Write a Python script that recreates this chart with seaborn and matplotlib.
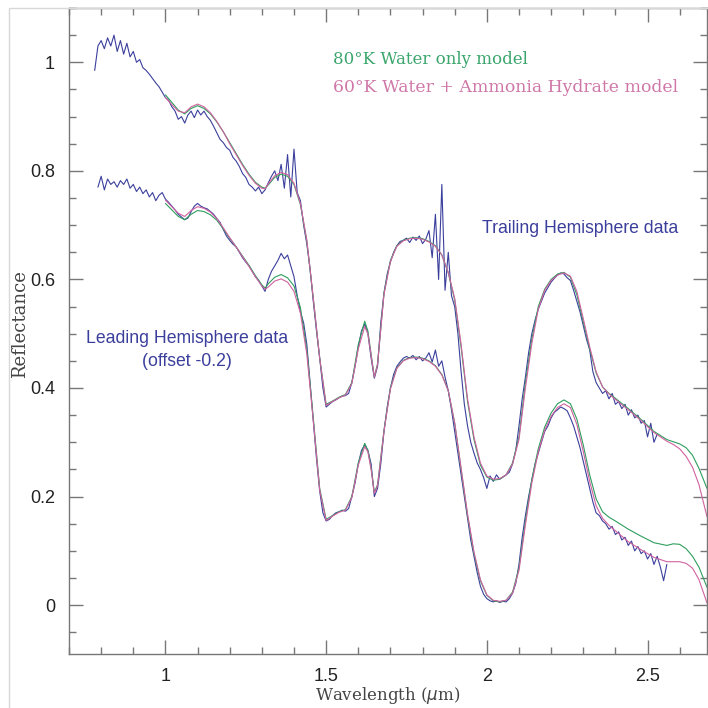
import numpy as np
import matplotlib
matplotlib.use("Agg")
import matplotlib.pyplot as plt
from matplotlib.patches import Rectangle
from matplotlib.ticker import MultipleLocator
import seaborn as sns

nan = np.nan

# wavelength grid of the measured spectra (um)
data_wl = [
    0.78, 0.79, 0.80, 0.81, 0.82, 0.83, 0.84, 0.85, 0.86, 0.87,
    0.88, 0.89, 0.90, 0.91, 0.92, 0.93, 0.94, 0.95, 0.96, 0.97,
    0.98, 0.99, 1.00, 1.01, 1.02, 1.03, 1.04, 1.05, 1.06, 1.07,
    1.08, 1.09, 1.10, 1.11, 1.12, 1.13, 1.14, 1.15, 1.16, 1.17,
    1.18, 1.19, 1.20, 1.21, 1.22, 1.23, 1.24, 1.25, 1.26, 1.27,
    1.28, 1.29, 1.30, 1.31, 1.32, 1.33, 1.34, 1.35, 1.36, 1.37,
    1.38, 1.39, 1.40, 1.41, 1.42, 1.43, 1.44, 1.45, 1.46, 1.47,
    1.48, 1.49, 1.50, 1.51, 1.52, 1.53, 1.54, 1.55, 1.56, 1.57,
    1.58, 1.59, 1.60, 1.61, 1.62, 1.63, 1.64, 1.65, 1.66, 1.67,
    1.68, 1.69, 1.70, 1.71, 1.72, 1.73, 1.74, 1.75, 1.76, 1.77,
    1.78, 1.79, 1.80, 1.81, 1.82, 1.83, 1.84, 1.85, 1.86, 1.87,
    1.88, 1.89, 1.90, 1.91, 1.92, 1.93, 1.94, 1.95, 1.96, 1.97,
    1.98, 1.99, 2.00, 2.01, 2.02, 2.03, 2.04, 2.05, 2.06, 2.07,
    2.08, 2.09, 2.10, 2.11, 2.12, 2.13, 2.14, 2.15, 2.16, 2.17,
    2.18, 2.19, 2.20, 2.21, 2.22, 2.23, 2.24, 2.25, 2.26, 2.27,
    2.28, 2.29, 2.30, 2.31, 2.32, 2.33, 2.34, 2.35, 2.36, 2.37,
    2.38, 2.39, 2.40, 2.41, 2.42, 2.43, 2.44, 2.45, 2.46, 2.47,
    2.48, 2.49, 2.50, 2.51, 2.52, 2.53, 2.54, 2.55, 2.56,
]

# trailing hemisphere reflectance
trailing_data = [
    0.985, 1.03, 1.04, 1.025, 1.045, 1.03, 1.05, 1.02, 1.04, 1.015,
    1.035, 1.01, 1.02, 1.0, 1.005, 0.99, 0.985, 0.978, 0.97, 0.962,
    0.955, 0.945, 0.935, 0.93, 0.918, 0.91, 0.895, 0.9, 0.888, 0.903,
    0.91, 0.898, 0.912, 0.903, 0.91, 0.9, 0.893, 0.882, 0.87, 0.858,
    0.852, 0.843, 0.838, 0.825, 0.818, 0.808, 0.795, 0.788, 0.775, 0.77,
    0.763, 0.77, 0.758, 0.765, 0.778, 0.79, 0.80, 0.782, 0.812, 0.768,
    0.83, 0.752, 0.84, 0.76, 0.745, 0.70, 0.665, 0.62, 0.56, 0.505,
    0.455, 0.40, 0.365, 0.37, 0.375, 0.378, 0.382, 0.385, 0.386, 0.39,
    0.41, 0.44, 0.475, 0.505, 0.518, 0.50, 0.455, 0.418, 0.44, 0.52,
    0.575, 0.61, 0.632, 0.65, 0.662, 0.67, 0.672, 0.676, 0.668, 0.678,
    0.672, 0.68, 0.666, 0.674, 0.69, 0.64, 0.72, 0.60, 0.775, 0.58,
    0.65, 0.57, 0.55, 0.50, 0.43, 0.37, 0.33, 0.30, 0.28, 0.262,
    0.25, 0.235, 0.215, 0.238, 0.228, 0.24, 0.232, 0.236, 0.24, 0.245,
    0.26, 0.285, 0.33, 0.38, 0.42, 0.465, 0.50, 0.525, 0.545, 0.56,
    0.575, 0.585, 0.595, 0.602, 0.608, 0.612, 0.61, 0.603, 0.598, 0.58,
    0.56, 0.54, 0.515, 0.49, 0.47, 0.43, 0.41, 0.40, 0.39, 0.395,
    0.38, 0.39, 0.37, 0.375, 0.362, 0.37, 0.35, 0.36, 0.345, 0.35,
    0.335, 0.34, 0.31, 0.335, 0.30, 0.315, nan, nan, nan,
]

# leading hemisphere reflectance (already offset by -0.2)
leading_data = [
    nan, 0.77, 0.79, 0.765, 0.785, 0.775, 0.78, 0.77, 0.782, 0.775,
    0.785, 0.768, 0.775, 0.762, 0.77, 0.758, 0.765, 0.752, 0.76, 0.745,
    0.755, 0.76, 0.748, 0.742, 0.735, 0.728, 0.72, 0.715, 0.71, 0.713,
    0.725, 0.735, 0.74, 0.735, 0.732, 0.73, 0.725, 0.72, 0.712, 0.705,
    0.692, 0.68, 0.672, 0.665, 0.66, 0.65, 0.64, 0.632, 0.625, 0.615,
    0.605, 0.598, 0.588, 0.578, 0.6, 0.615, 0.625, 0.635, 0.648, 0.638,
    0.645, 0.625, 0.605, 0.57, 0.54, 0.52, 0.48, 0.41, 0.34, 0.27,
    0.21, 0.17, 0.155, 0.158, 0.165, 0.17, 0.172, 0.175, 0.173, 0.178,
    0.2, 0.225, 0.26, 0.285, 0.295, 0.285, 0.26, 0.2, 0.215, 0.26,
    0.32, 0.365, 0.4, 0.425, 0.44, 0.448, 0.455, 0.458, 0.455, 0.46,
    0.452, 0.458, 0.45, 0.455, 0.465, 0.448, 0.47, 0.44, 0.45, 0.42,
    0.395, 0.36, 0.32, 0.28, 0.24, 0.2, 0.16, 0.12, 0.09, 0.06,
    0.035, 0.02, 0.012, 0.008, 0.006, 0.008, 0.005, 0.007, 0.006, 0.012,
    0.022, 0.04, 0.075, 0.125, 0.165, 0.2, 0.23, 0.26, 0.28, 0.3,
    0.32, 0.33, 0.345, 0.355, 0.36, 0.365, 0.362, 0.358, 0.345, 0.33,
    0.31, 0.29, 0.265, 0.24, 0.215, 0.19, 0.17, 0.165, 0.155, 0.15,
    0.14, 0.145, 0.13, 0.135, 0.12, 0.125, 0.11, 0.118, 0.1, 0.108,
    0.095, 0.1, 0.085, 0.095, 0.075, 0.09, 0.07, 0.045, 0.075,
]

# wavelength grid of the model spectra
model_wl = [
    1.00, 1.02, 1.04, 1.06, 1.08, 1.10, 1.12, 1.14, 1.16, 1.18,
    1.20, 1.22, 1.24, 1.26, 1.28, 1.30, 1.31, 1.32, 1.34, 1.36,
    1.38, 1.40, 1.42, 1.44, 1.46, 1.48, 1.50, 1.52, 1.54, 1.56,
    1.58, 1.60, 1.62, 1.63, 1.64, 1.65, 1.66, 1.68, 1.70, 1.72,
    1.74, 1.76, 1.78, 1.80, 1.82, 1.84, 1.86, 1.88, 1.90, 1.92,
    1.94, 1.96, 1.98, 2.00, 2.02, 2.04, 2.06, 2.08, 2.10, 2.12,
    2.14, 2.16, 2.18, 2.20, 2.22, 2.24, 2.26, 2.28, 2.30, 2.32,
    2.34, 2.36, 2.38, 2.40, 2.44, 2.48, 2.52, 2.56, 2.58, 2.60,
    2.62, 2.64, 2.66, 2.685,
]

trailing_water = [
    0.94, 0.926, 0.912, 0.905, 0.915, 0.92, 0.915, 0.905, 0.89, 0.872,
    0.852, 0.832, 0.812, 0.794, 0.779, 0.77, 0.768, 0.774, 0.788, 0.794,
    0.79, 0.775, 0.738, 0.67, 0.565, 0.455, 0.37, 0.376, 0.383, 0.388,
    0.41, 0.48, 0.523, 0.505, 0.462, 0.42, 0.445, 0.575, 0.635, 0.662,
    0.672, 0.676, 0.677, 0.675, 0.67, 0.662, 0.645, 0.612, 0.562, 0.475,
    0.375, 0.305, 0.258, 0.236, 0.23, 0.232, 0.24, 0.262, 0.31, 0.41,
    0.49, 0.55, 0.582, 0.6, 0.61, 0.613, 0.604, 0.572, 0.522, 0.472,
    0.428, 0.402, 0.39, 0.381, 0.362, 0.342, 0.32, 0.305, 0.301, 0.297,
    0.29, 0.276, 0.252, 0.215,
]

trailing_ammonia = [
    0.935, 0.922, 0.91, 0.907, 0.918, 0.923, 0.918, 0.907, 0.891, 0.872,
    0.85, 0.83, 0.81, 0.792, 0.777, 0.768, 0.767, 0.776, 0.791, 0.797,
    0.793, 0.777, 0.74, 0.672, 0.566, 0.455, 0.368, 0.375, 0.382, 0.387,
    0.408, 0.472, 0.513, 0.5, 0.46, 0.42, 0.443, 0.572, 0.633, 0.661,
    0.671, 0.675, 0.676, 0.674, 0.669, 0.661, 0.645, 0.613, 0.565, 0.48,
    0.38, 0.31, 0.262, 0.238, 0.232, 0.233, 0.24, 0.26, 0.305, 0.4,
    0.482, 0.545, 0.58, 0.598, 0.608, 0.612, 0.606, 0.578, 0.528, 0.476,
    0.43, 0.402, 0.389, 0.379, 0.36, 0.34, 0.318, 0.302, 0.296, 0.288,
    0.274, 0.254, 0.222, 0.163,
]

leading_water = [
    0.74, 0.728, 0.716, 0.71, 0.72, 0.727, 0.725, 0.719, 0.709, 0.693,
    0.676, 0.66, 0.643, 0.626, 0.607, 0.59, 0.584, 0.592, 0.604, 0.609,
    0.603, 0.588, 0.548, 0.47, 0.345, 0.215, 0.158, 0.165, 0.172, 0.176,
    0.2, 0.262, 0.298, 0.285, 0.252, 0.208, 0.222, 0.322, 0.4, 0.437,
    0.451, 0.456, 0.457, 0.455, 0.45, 0.441, 0.425, 0.395, 0.335, 0.25,
    0.165, 0.095, 0.045, 0.018, 0.008, 0.006, 0.009, 0.024, 0.068, 0.155,
    0.232, 0.288, 0.328, 0.354, 0.371, 0.378, 0.371, 0.343, 0.295, 0.24,
    0.196, 0.172, 0.162, 0.155, 0.14, 0.127, 0.115, 0.11, 0.113, 0.112,
    0.104, 0.09, 0.07, 0.033,
]

leading_ammonia = [
    0.746, 0.734, 0.722, 0.716, 0.727, 0.734, 0.731, 0.724, 0.712, 0.695,
    0.677, 0.66, 0.642, 0.624, 0.605, 0.588, 0.582, 0.586, 0.597, 0.601,
    0.595, 0.578, 0.538, 0.462, 0.34, 0.212, 0.156, 0.164, 0.171, 0.175,
    0.198, 0.258, 0.292, 0.282, 0.25, 0.206, 0.22, 0.32, 0.398, 0.436,
    0.45, 0.455, 0.456, 0.454, 0.449, 0.44, 0.424, 0.395, 0.336, 0.252,
    0.168, 0.098, 0.047, 0.019, 0.009, 0.007, 0.009, 0.022, 0.064, 0.148,
    0.225, 0.282, 0.322, 0.348, 0.364, 0.371, 0.364, 0.333, 0.283, 0.228,
    0.183, 0.16, 0.147, 0.137, 0.117, 0.102, 0.088, 0.08, 0.08, 0.08,
    0.077, 0.068, 0.047, 0.004,
]

blue = "#3b3f9c"
green = "#2f9e5e"
pink = "#d062a0"

sns.set_theme(style="ticks")
plt.rcParams['font.family'] = ['Liberation Sans', 'DejaVu Sans']

fig = plt.figure(figsize=(7.08, 7.08), dpi=100)
ax = fig.add_axes([69 / 708, 54 / 708, 638 / 708, 646 / 708])

for y in [trailing_data, leading_data]:
    sns.lineplot(x=data_wl, y=y, ax=ax, color=blue, lw=0.8,
                 sort=False, estimator=None)
for y, c in [(trailing_water, green), (trailing_ammonia, pink),
             (leading_water, green), (leading_ammonia, pink)]:
    sns.lineplot(x=model_wl, y=y, ax=ax, color=c, lw=0.8,
                 sort=False, estimator=None)

ax.set_xlim(0.7, 2.685)
ax.set_ylim(-0.09, 1.1)
ax.xaxis.set_major_locator(MultipleLocator(0.5))
ax.xaxis.set_minor_locator(MultipleLocator(0.1))
ax.yaxis.set_major_locator(MultipleLocator(0.2))
ax.yaxis.set_minor_locator(MultipleLocator(0.05))
ax.xaxis.set_major_formatter(lambda v, p: f"{v:g}")
ax.yaxis.set_major_formatter(lambda v, p: f"{v:g}")
ax.tick_params(which='both', direction='in', top=True, right=True,
               color='#777777', width=1)
ax.tick_params(which='major', length=10, labelsize=13, pad=10,
               labelcolor='#222222')
ax.tick_params(which='minor', length=5)
for s in ax.spines.values():
    s.set_color('#777777')
    s.set_linewidth(1)

ax.set_xlabel(r"Wavelength ($\mu$m)", family='DejaVu Serif', fontsize=12,
              color='#444444', labelpad=0)
ax.set_ylabel("Reflectance", family='DejaVu Serif', fontsize=13,
              color='#444444', labelpad=1, y=0.51)

ax.text(1.52, 1.006, "80\u00b0K Water only model", family='DejaVu Serif',
        fontsize=12, color="#3aa56c", va='center')
ax.text(1.52, 0.954, "60\u00b0K Water + Ammonia Hydrate model",
        family='DejaVu Serif', fontsize=12.4, color="#cf78a8", va='center')
ax.text(1.986, 0.694, "Trailing Hemisphere data", fontsize=12.7,
        color=blue, va='center')
ax.text(0.753, 0.491, "Leading Hemisphere data", fontsize=12.7,
        color=blue, va='center')
ax.text(1.066, 0.448, "(offset -0.2)", fontsize=12.7, color=blue,
        va='center', ha='center')

fig.patches.append(Rectangle((9 / 708, -0.01), 1, 700 / 708 + 0.01,
                             transform=fig.transFigure, fill=False,
                             edgecolor='#d8d8d8', lw=1))

fig.savefig("out.png", dpi=100, facecolor='white')
